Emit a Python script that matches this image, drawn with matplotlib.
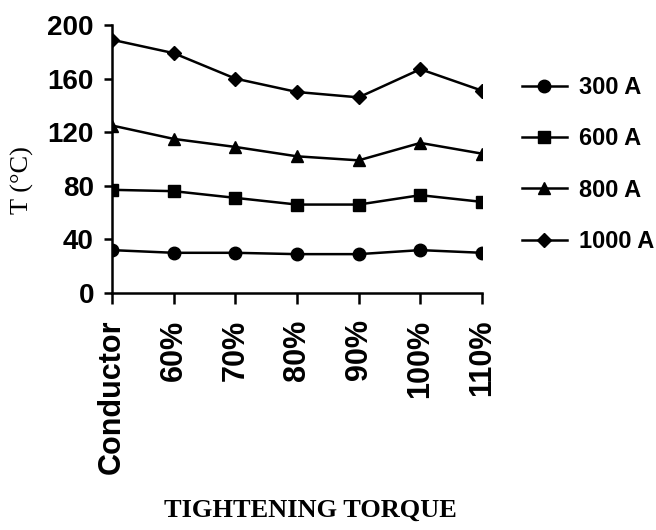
import matplotlib
matplotlib.use('Agg')
import matplotlib.pyplot as plt

categories = ['Conductor', '60%', '70%', '80%', '90%', '100%', '110%']
series_300 = [32, 30, 30, 29, 29, 32, 30]
series_600 = [77, 76, 71, 66, 66, 73, 68]
series_800 = [125, 115, 109, 102, 99, 112, 104]
series_1000 = [189, 179, 160, 150, 146, 167, 151]
labels = ['300 A', '600 A', '800 A', '1000 A']

fig = plt.figure(figsize=(6.56, 5.30), dpi=100)
ax = fig.add_axes([112/656, 1 - 293/530, 370/656, 268/530])

x = list(range(len(categories)))
style = dict(color='black', lw=1.8, markersize=9)
ax.plot(x, series_300, marker='o', label=labels[0], **style)
ax.plot(x, series_600, marker='s', label=labels[1], **{**style, 'markersize': 8.5})
ax.plot(x, series_800, marker='^', label=labels[2], **style)
ax.plot(x, series_1000, marker='D', label=labels[3], **{**style, 'markersize': 7.5})

ax.set_xlim(0, 6)
ax.set_ylim(0, 200)
ax.set_yticks([0, 40, 80, 120, 160, 200])
ax.set_xticks(x)
ax.set_xticklabels(categories, rotation=90, fontsize=22, fontweight='bold',
                   family='Liberation Sans')
for t in ax.get_yticklabels():
    t.set_fontsize(20)
    t.set_fontweight('bold')
    t.set_family('Liberation Sans')

for s in ['top', 'right']:
    ax.spines[s].set_visible(False)
for s in ['left', 'bottom']:
    ax.spines[s].set_linewidth(1.8)
ax.tick_params(axis='y', width=1.8, length=6, pad=7)
ax.tick_params(axis='x', width=1.8, length=8, pad=11)

leg = ax.legend(loc='upper left', bbox_to_anchor=(522/656, 1 - 76/530),
                bbox_transform=fig.transFigure, frameon=False,
                prop={'family': 'Liberation Sans', 'weight': 'bold', 'size': 17},
                handlelength=1.9, handletextpad=0.5, labelspacing=1.2,
                borderaxespad=0, borderpad=0)

fig.text(22/656, 1 - 180/530, 'T (°C)', rotation=90, ha='center', va='center',
         family='Liberation Serif', fontsize=19)
fig.text(310/656, 1 - 510/530, 'TIGHTENING TORQUE', ha='center', va='center',
         family='Liberation Serif', fontweight='bold', fontsize=19)

fig.savefig('out.png', dpi=100)
